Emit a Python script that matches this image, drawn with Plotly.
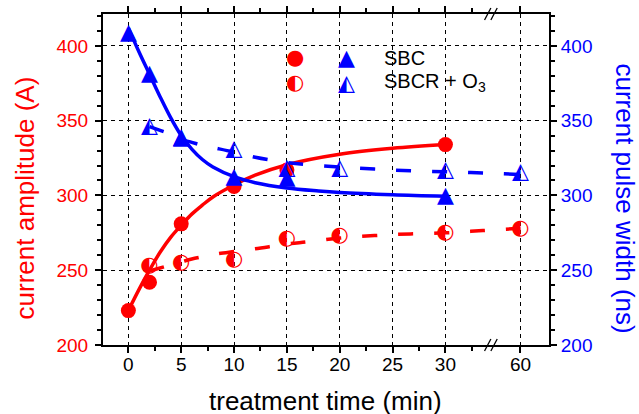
import plotly.graph_objects as go

# ---------------- data ----------------
time_sbc = [0, 2, 5, 10, 15, 30]
amp_sbc = [223, 242, 281, 306, 317, 334]
pw_sbc = [408, 381, 338, 312, 311, 299]

time_o3 = [2, 5, 10, 15, 20, 30, 60]
amp_o3 = [253, 255, 257, 271, 273, 275, 278]
pw_o3 = [346, 339, 331, 318, 318, 317, 315]

# fitted curves
fit_t_sbc_amp = [0, 1, 2, 3, 4, 5, 6, 7, 8, 10, 12, 15, 20, 25, 30]
fit_amp_sbc = [223, 237, 250, 262, 272, 280, 287.5, 293.5, 299, 307, 313.5, 320.5, 327.5, 331.5, 334]
fit_t_sbc_pw = [0, 1, 2, 3, 4, 5, 6, 7, 8, 10, 12, 15, 18, 20, 25, 30]
fit_pw_sbc = [412, 396, 381, 366, 352, 340, 331, 324, 319, 312.5, 308.5, 305, 303, 302, 300.5, 299.5]
fit_t_o3 = [2, 3, 4, 5, 6, 7, 8, 10, 12, 15, 17, 20, 25, 30, 45, 60]
fit_amp_o3 = [249.5, 251.5, 253.5, 255.5, 257.5, 259, 260.5, 262.5, 264.3, 267.5, 269, 271.5, 273.8, 275, 276.5, 278]
fit_pw_o3 = [346, 343.5, 341, 337.5, 335.5, 333.5, 332, 329, 325.5, 322, 320.5, 319, 317, 315.8, 315, 314]

x_tick_labels = [0, 5, 10, 15, 20, 25, 30, 60]
x_minor = [-2.5, 2.5, 7.5, 12.5, 17.5, 22.5, 27.5, 32.5]
y_ticks = [200, 250, 300, 350, 400]
y_minor = [210, 220, 230, 240, 260, 270, 280, 290, 310, 320, 330, 340, 360, 370, 380, 390, 410, 420]

RED = "#FF0000"
BLUE = "#0000FF"
BREAK_AT = 30.0
BREAK_SCALE = 7.1 / 30.0   # compression of the 30..60 segment (broken axis)
BREAK_POS = 34.3


def bx(t):
    """broken-axis transform: real time -> display coordinate"""
    return t if t <= BREAK_AT else BREAK_AT + (t - BREAK_AT) * BREAK_SCALE


def mapx(ts):
    return [bx(t) for t in ts]


fig = go.Figure()

dash = "15px,21px"
# fitted curves
fig.add_trace(go.Scatter(x=mapx(fit_t_sbc_amp), y=fit_amp_sbc, mode="lines",
                         line=dict(color=RED, width=3.5, shape="spline"), yaxis="y"))
fig.add_trace(go.Scatter(x=mapx(fit_t_sbc_pw), y=fit_pw_sbc, mode="lines",
                         line=dict(color=BLUE, width=3.5, shape="spline"), yaxis="y2"))
fig.add_trace(go.Scatter(x=mapx(fit_t_o3), y=fit_amp_o3, mode="lines",
                         line=dict(color=RED, width=3.5, dash=dash, shape="spline"), yaxis="y"))
fig.add_trace(go.Scatter(x=mapx(fit_t_o3), y=fit_pw_o3, mode="lines",
                         line=dict(color=BLUE, width=3.5, dash=dash, shape="spline"), yaxis="y2"))

# markers
glyph_font = "DejaVu Sans"
CIRC = 21
TRI = 22
fig.add_trace(go.Scatter(x=mapx(time_o3), y=amp_o3, mode="text", text=["◐"] * len(time_o3),
                         textposition="middle center",
                         textfont=dict(family=glyph_font, size=CIRC, color=RED), yaxis="y"))
fig.add_trace(go.Scatter(x=mapx(time_sbc), y=amp_sbc, mode="markers",
                         marker=dict(symbol="circle", size=15, color=RED), yaxis="y"))
fig.add_trace(go.Scatter(x=mapx(time_o3), y=pw_o3, mode="text", text=["◭"] * len(time_o3),
                         textposition="middle center",
                         textfont=dict(family=glyph_font, size=TRI, color=BLUE), yaxis="y2"))
fig.add_trace(go.Scatter(x=mapx(time_sbc), y=pw_sbc, mode="text", text=["▲"] * len(time_sbc),
                         textposition="middle center",
                         textfont=dict(family=glyph_font, size=TRI, color=BLUE), yaxis="y2"))

# break marks on the x axis (bottom and top)
for yp in (0, 1):
    for off in (-0.3, 0.3):
        fig.add_shape(type="line", xref="x", yref="paper",
                      x0=BREAK_POS + off - 0.3, x1=BREAK_POS + off + 0.3,
                      y0=yp - 0.018, y1=yp + 0.018,
                      line=dict(color="black", width=1.3))

# legend (manual)
leg_font = dict(family="Liberation Sans, Arial", size=20, color="black")
for (xp, yp, txt, size, col) in [
    (0.4305, 0.869, "●", CIRC, RED), (0.547, 0.869, "▲", TRI, BLUE),
    (0.4305, 0.794, "◐", CIRC, RED), (0.547, 0.794, "◭", TRI, BLUE),
]:
    fig.add_annotation(x=xp, y=yp, xref="paper", yref="paper", text=txt, showarrow=False,
                       xanchor="center", yanchor="middle",
                       font=dict(family=glyph_font, size=size, color=col))
fig.add_annotation(x=0.625, y=0.868, xref="paper", yref="paper", text="SBC", showarrow=False,
                   xanchor="left", yanchor="middle", font=leg_font)
fig.add_annotation(x=0.625, y=0.794, xref="paper", yref="paper", text="SBCR + O<sub>3</sub>",
                   showarrow=False, xanchor="left", yanchor="middle", font=leg_font)

# axis titles
title_font = "Liberation Sans, Arial"
fig.add_annotation(x=-0.175, y=0.4456, xref="paper", yref="paper", text="current amplitude (A)",
                   textangle=-90, showarrow=False, xanchor="center", yanchor="middle",
                   font=dict(family=title_font, size=26, color=RED))
fig.add_annotation(x=1.170, y=0.4432, xref="paper", yref="paper", text="current pulse width (ns)",
                   textangle=90, showarrow=False, xanchor="center", yanchor="middle",
                   font=dict(family=title_font, size=26, color=BLUE))
fig.add_annotation(x=0.4996, y=-0.168, xref="paper", yref="paper", text="treatment time (min)",
                   showarrow=False, xanchor="center", yanchor="middle",
                   font=dict(family=title_font, size=26, color="black"))

tick_font = dict(family="Liberation Sans, Arial", size=19)
fig.update_layout(
    width=639, height=414,
    margin=dict(l=103, r=90, t=14, b=69, autoexpand=False),
    paper_bgcolor="white", plot_bgcolor="white",
    showlegend=False,
    xaxis=dict(
        range=[-2.4, 39.8],
        tickmode="array", tickvals=mapx(x_tick_labels), ticktext=[str(v) for v in x_tick_labels],
        ticks="outside", ticklen=6, tickwidth=2, tickcolor="black",
        showline=True, linecolor="black", linewidth=2, mirror="ticks",
        showgrid=True, gridcolor="black", gridwidth=1, griddash="4px,4px",
        zeroline=False, automargin=False, ticklabelstandoff=-5,
        tickfont=dict(tick_font, color="black"),
        minor=dict(tickmode="array", tickvals=x_minor, ticks="outside", ticklen=4,
                   tickwidth=2, tickcolor="black", showgrid=False),
    ),
    yaxis=dict(
        range=[200, 421.3],
        tickmode="array", tickvals=y_ticks,
        ticks="outside", ticklen=6, tickwidth=2, tickcolor="black",
        showline=True, linecolor="black", linewidth=2,
        showgrid=True, gridcolor="black", gridwidth=1, griddash="4px,4px",
        zeroline=False, automargin=False, ticklabelstandoff=3,
        tickfont=dict(tick_font, color=RED),
        minor=dict(tickmode="array", tickvals=y_minor, ticks="outside", ticklen=4,
                   tickwidth=2, tickcolor="black", showgrid=False),
    ),
    yaxis2=dict(
        range=[200, 421.3], overlaying="y", side="right",
        tickmode="array", tickvals=y_ticks,
        ticks="outside", ticklen=6, tickwidth=2, tickcolor="black",
        showline=True, linecolor="black", linewidth=2,
        showgrid=False, zeroline=False, automargin=False,
        tickfont=dict(tick_font, color=BLUE),
        minor=dict(tickmode="array", tickvals=y_minor, ticks="outside", ticklen=4,
                   tickwidth=2, tickcolor="black", showgrid=False),
    ),
)

fig.write_html("out.html", config={"displayModeBar": False},
               post_script="document.body.style.margin='0';document.body.style.overflow='hidden';")
